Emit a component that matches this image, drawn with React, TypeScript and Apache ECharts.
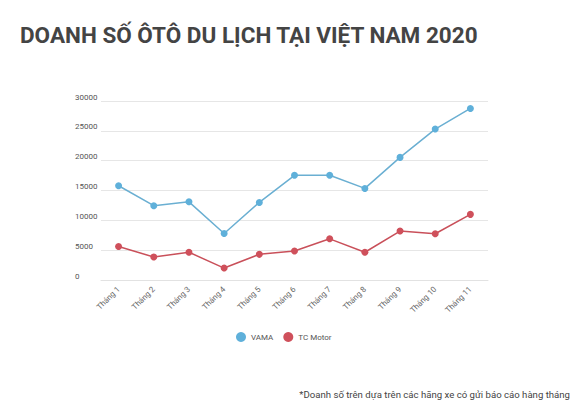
import * as echarts from "echarts";
import React, { useEffect, useRef } from "react";

const months = ["Tháng 1", "Tháng 2", "Tháng 3", "Tháng 4", "Tháng 5", "Tháng 6", "Tháng 7", "Tháng 8", "Tháng 9", "Tháng 10", "Tháng 11"];
const vama = [15800, 12450, 13100, 7800, 13000, 17550, 17550, 15350, 20550, 25300, 28750];
const tcMotor = [5600, 3850, 4650, 2000, 4300, 4850, 6900, 4650, 8200, 7750, 11000];

const App = () => {
  const ref = useRef<HTMLDivElement>(null);

  useEffect(() => {
    document.body.style.margin = "0";
    const font = "Roboto, sans-serif";
    const option = {
      animation: false,
      backgroundColor: "#ffffff",
      textStyle: { fontFamily: font },
      title: [
        {
          text: "DOANH SỐ ÔTÔ DU LỊCH TẠI VIỆT NAM 2020",
          left: 15,
          top: 18,
          textStyle: { fontSize: 22.5, fontWeight: "bold", color: "#444444", fontFamily: font }
        },
        {
          text: "*Doanh số trên dựa trên các hãng xe có gửi báo cáo hàng tháng",
          right: 6,
          top: 384,
          textStyle: { fontSize: 9.6, fontWeight: "normal", color: "#444444", fontFamily: font }
        }
      ],
      legend: {
        data: ["VAMA", "TC Motor"],
        top: 327,
        left: 231,
        icon: "circle",
        itemWidth: 10,
        itemHeight: 10,
        itemGap: 10,
        textStyle: { fontSize: 8, color: "#555555" }
      },
      grid: {
        left: 101,
        width: 387,
        top: 101,
        height: 179
      },
      xAxis: {
        type: "category",
        data: months,
        axisTick: { show: false },
        axisLine: { lineStyle: { color: "#e2e2e2" } },
        axisLabel: { rotate: 45, fontSize: 8, color: "#666666", margin: 8 }
      },
      yAxis: {
        type: "value",
        min: 0,
        max: 30000,
        interval: 5000,
        axisLine: { show: false },
        axisTick: { show: false },
        splitLine: { lineStyle: { color: "#e6e6e6" } },
        axisLabel: {
          fontSize: 8,
          color: "#555555",
          align: "left",
          margin: 26,
          verticalAlign: "bottom",
          formatter: (v: number) => String(v)
        }
      },
      series: [
        {
          name: "VAMA",
          type: "line",
          data: vama,
          symbol: "circle",
          symbolSize: 7,
          color: "#5fb0da",
          lineStyle: { width: 1.5, color: "#6aafd2" }
        },
        {
          name: "TC Motor",
          type: "line",
          data: tcMotor,
          symbol: "circle",
          symbolSize: 7,
          color: "#cf505b",
          lineStyle: { width: 1.5, color: "#c9505a" }
        }
      ]
    };
    const myChart = echarts.init(ref.current, null, { renderer: "svg" });
    myChart.setOption(option);
    return () => {
      myChart.dispose();
    };
  }, []);

  return <div ref={ref} style={{ width: 581, height: 413 }}></div>;
};

export default App;
